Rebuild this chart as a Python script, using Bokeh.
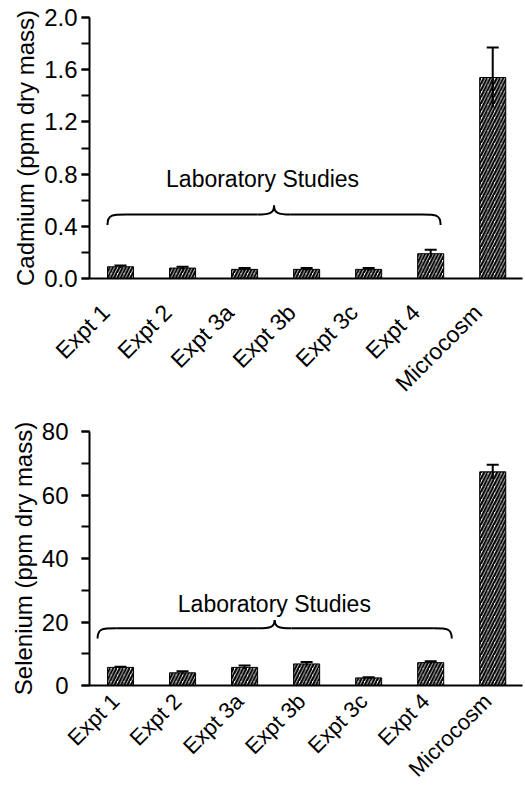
import math
from bokeh.plotting import figure
from bokeh.models import (Range1d, ColumnDataSource, Whisker, TeeHead, FixedTicker,
                          SingleIntervalTicker, NumeralTickFormatter)
from bokeh.layouts import column
from bokeh.core.properties import value
from bokeh.embed import file_html
from bokeh.resources import INLINE

# ---------------- data ----------------
categories = ["Expt 1", "Expt 2", "Expt 3a", "Expt 3b", "Expt 3c", "Expt 4", "Microcosm"]
cadmium = [0.09, 0.08, 0.07, 0.07, 0.07, 0.19, 1.54]
cadmium_err = [0.01, 0.01, 0.01, 0.01, 0.01, 0.03, 0.23]
selenium = [5.7, 4.0, 5.7, 6.8, 2.4, 7.2, 67.3]
selenium_err = [0.2, 0.5, 0.6, 0.6, 0.2, 0.4, 2.2]
group_label = "Laboratory Studies"

FONT = "Liberation Sans"


def add_brace(p, x0, x1, y_base, y_end, y_peak, dx_end, dx_mid):
    xc = (x0 + x1) / 2.0
    bz = dict(
        x0=[x0, xc - dx_mid, x1, xc + dx_mid],
        y0=[y_end, y_base, y_end, y_base],
        x1=[x0 + dx_end, xc, x1 - dx_end, xc],
        y1=[y_base, y_peak, y_base, y_peak],
        cx0=[x0, xc - dx_mid * 0.25, x1, xc + dx_mid * 0.25],
        cy0=[y_base, y_base, y_base, y_base],
        cx1=[x0 + dx_end * 0.25, xc, x1 - dx_end * 0.25, xc],
        cy1=[y_base, y_base + (y_peak - y_base) * 0.15, y_base,
             y_base + (y_peak - y_base) * 0.15],
    )
    p.bezier(source=ColumnDataSource(bz), x0="x0", y0="y0", x1="x1", y1="y1",
             cx0="cx0", cy0="cy0", cx1="cx1", cy1="cy1",
             line_color="black", line_width=2)
    p.segment(x0=[x0 + dx_end, xc + dx_mid], y0=[y_base, y_base],
              x1=[xc - dx_mid, x1 - dx_end], y1=[y_base, y_base],
              line_color="black", line_width=2)


def make_panel(vals, errs, ylabel, ymax, yint, fmt, height, b_top, b_bottom,
               x_std, x_shift, x_fs, y_std, ylab_std, brace, text_xy):
    xs = [i + 0.5 for i in range(len(categories))]
    p = figure(width=525, height=height,
               x_range=Range1d(0, 6.98), y_range=Range1d(0, ymax),
               output_backend="svg", toolbar_location=None,
               min_border_left=89, min_border_right=3,
               min_border_top=b_top, min_border_bottom=b_bottom)
    p.outline_line_color = None
    p.xgrid.visible = False
    p.ygrid.visible = False
    p.background_fill_color = "white"

    src = ColumnDataSource(dict(x=xs, top=vals,
                                upper=[v + e for v, e in zip(vals, errs)],
                                lower=[v - e for v, e in zip(vals, errs)]))
    p.vbar(x="x", top="top", bottom=0, width=0.42, source=src,
           fill_color="white", line_color="black", line_width=1,
           hatch_pattern="/", hatch_color="black", hatch_weight=2.2, hatch_scale=6.5)
    w = Whisker(base="x", upper="upper", lower="lower", source=src,
                dimension="height", line_color="black", line_width=2,
                upper_head=TeeHead(size=12, line_width=2, line_color="black"),
                lower_head=None, level="overlay")
    p.add_layout(w)

    add_brace(p, *brace)
    p.text(x=[text_xy[0]], y=[text_xy[1]], text=[group_label],
           text_font=value(FONT), text_font_size="23px", text_color="black",
           text_align="center", text_baseline="middle")

    # x axis (labels sit slightly left of the bars, as in the original)
    tick_pos = [x + x_shift for x in xs]
    xa = p.xaxis[0]
    xa.ticker = FixedTicker(ticks=tick_pos)
    xa.major_label_overrides = {t: c for t, c in zip(tick_pos, categories)}
    xa.major_label_orientation = math.pi / 4
    xa.major_label_text_font = FONT
    xa.major_label_text_font_size = x_fs
    xa.major_label_text_color = "black"
    xa.major_label_standoff = x_std
    xa.major_tick_out = 0
    xa.major_tick_in = 0
    xa.minor_tick_out = 0
    xa.minor_tick_in = 0
    xa.major_tick_line_color = None
    xa.minor_tick_line_color = None
    xa.axis_line_width = 2
    xa.axis_line_color = "black"

    # y axis
    ya = p.yaxis[0]
    ya.ticker = SingleIntervalTicker(interval=yint, num_minor_ticks=2)
    ya.formatter = NumeralTickFormatter(format=fmt)
    ya.axis_label = ylabel
    ya.axis_label_text_font = FONT
    ya.axis_label_text_font_size = "24px"
    ya.axis_label_text_font_style = "normal"
    ya.axis_label_text_color = "black"
    ya.axis_label_standoff = ylab_std
    ya.major_label_text_font = FONT
    ya.major_label_text_font_size = "24px"
    ya.major_label_text_color = "black"
    ya.major_label_standoff = y_std
    ya.axis_line_width = 2
    ya.axis_line_color = "black"
    ya.major_tick_out = 8
    ya.major_tick_in = 0
    ya.minor_tick_out = 8
    ya.minor_tick_in = 0
    ya.major_tick_line_width = 2
    ya.minor_tick_line_width = 2
    ya.major_tick_line_color = "black"
    ya.minor_tick_line_color = "black"
    return p


p1 = make_panel(cadmium, cadmium_err, "Cadmium (ppm dry mass)", 2.0, 0.4, "0.0",
                408, 17, 130, 30, -0.24, "23px", 4, 2,
                (0.29, 5.66, 0.49, 0.41, 0.56, 0.3, 0.27), (2.79, 0.76))
p2 = make_panel(selenium, selenium_err, "Selenium (ppm dry mass)", 80, 20, "0",
                385, 23, 107, 12, -0.08, "22px", 13, 2,
                (0.13, 5.84, 18.0, 14.8, 20.6, 0.3, 0.27), (2.98, 25.7))

layout = column(p1, p2, spacing=0)
open("out.html", "w").write(file_html(layout, INLINE))
